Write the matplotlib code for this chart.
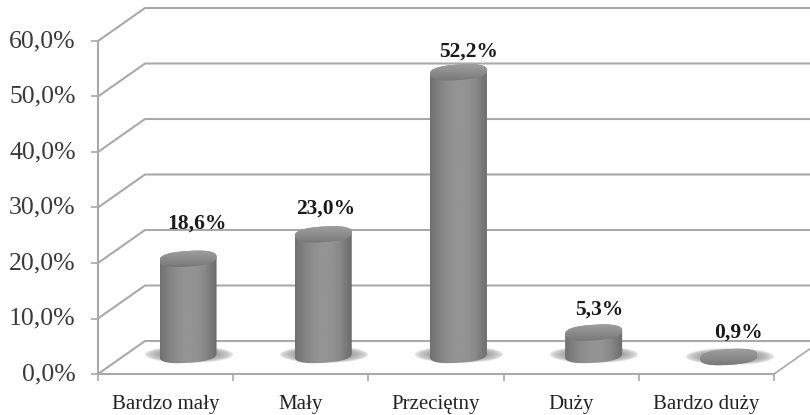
import numpy as np
import matplotlib
matplotlib.use("Agg")
import matplotlib.pyplot as plt
from matplotlib.patches import PathPatch, Polygon
from matplotlib.path import Path

categories = ["Bardzo mały", "Mały", "Przeciętny", "Duży", "Bardzo duży"]
values = [18.6, 23.0, 52.2, 5.3, 0.9]
value_labels = ["18,6%", "23,0%", "52,2%", "5,3%", "0,9%"]
y_ticks = [0, 10, 20, 30, 40, 50, 60]
y_tick_labels = ["0,0%", "10,0%", "20,0%", "30,0%", "40,0%", "50,0%", "60,0%"]

plt.rcParams["font.family"] = ["Liberation Serif", "DejaVu Serif"]

W, H = 810, 415
fig = plt.figure(figsize=(W / 100, H / 100), dpi=100)
ax = fig.add_axes([98 / W, (H - 374) / H, (774 - 98) / W, (374 - 41) / H])
ax.patch.set_alpha(0)

line_col = "#a9a9a9"
px_x = 5 / (774 - 98)   # one pixel in x data units
px_y = 60 / (374 - 41)  # one pixel in y data units
depth_x = 47 * px_x
depth_y = 33 * px_y

# back wall lines, floor and side
for t in y_ticks:
    ax.plot([0, depth_x, 6], [t, t + depth_y, t + depth_y], color=line_col, lw=1.5,
            clip_on=False, zorder=1, solid_joinstyle="miter")
ax.plot([5, 5 + depth_x], [0, depth_y], color=line_col, lw=1.2, clip_on=False, zorder=1)

xx, yy = np.meshgrid(np.linspace(-1, 1, 120), np.linspace(-1, 1, 60))
shadow = np.clip(1 - np.sqrt(xx ** 2 + yy ** 2), 0, 1) ** 0.5
shadow_rgba = np.zeros(shadow.shape + (4,))
shadow_rgba[..., :3] = 0.42
shadow_rgba[..., 3] = shadow

a = 28.5 * px_x
b = 7.8 * px_y
tilt = 1.8 * px_y
base_y = 19 * px_y
lid_y = 12 * px_y

body_grad = np.array([0.44, 0.49, 0.53, 0.56, 0.58, 0.58, 0.57, 0.54, 0.48, 0.42])
body_img = np.interp(np.linspace(0, 9, 200), np.arange(10), body_grad).reshape(1, -1)
top_img = np.linspace(0.46, 0.64, 60).reshape(-1, 1)[::-1]

theta = np.linspace(0, 2 * np.pi, 121)
cos_t = np.sign(np.cos(theta)) * np.abs(np.cos(theta)) ** 0.8
sin_t = np.sign(np.sin(theta)) * np.abs(np.sin(theta)) ** 0.8

for i, v in enumerate(values):
    cx = i + 0.666
    top_y = lid_y + v
    bot_y = min(base_y, top_y)

    # soft shadow on the floor
    ax.imshow(shadow_rgba, extent=[cx - 1.55 * a, cx + 1.6 * a, bot_y - 1.0 * b, bot_y + 1.1 * b],
              origin="lower", aspect="auto", zorder=2, clip_on=False, interpolation="bilinear")

    ex = cx + a * cos_t
    ey_base = bot_y + b * sin_t + tilt * cos_t
    ey_top = top_y + b * sin_t + tilt * cos_t

    # side of the cylinder, bottom half of base then top half of lid
    low = theta >= np.pi
    up = theta <= np.pi
    px = np.concatenate([ex[low], ex[up]])
    py = np.concatenate([ey_base[low], ey_top[up]])
    body = Polygon(np.column_stack([px, py]), closed=True, transform=ax.transData, fc="none", ec="none")
    ax.add_patch(body)
    im = ax.imshow(body_img, extent=[cx - a, cx + a, bot_y - b - tilt, top_y + b + tilt], cmap="gray",
                   vmin=0, vmax=1, aspect="auto", zorder=3, interpolation="bilinear")
    im.set_clip_path(body)

    lid = PathPatch(Path(np.column_stack([ex, ey_top])), transform=ax.transData, fc="none", ec="none")
    ax.add_patch(lid)
    im2 = ax.imshow(top_img, extent=[cx - a, cx + a, top_y - b - tilt, top_y + b + tilt], cmap="gray",
                    vmin=0, vmax=1, aspect="auto", zorder=4, interpolation="bilinear")
    im2.set_clip_path(lid)

label_dx = [9, 2, 10, 6, 10]
label_dy = [27, 18, 13, 15, 17]
for i, v in enumerate(values):
    ax.annotate(value_labels[i], xy=(i + 0.666, lid_y + v + b), xytext=(label_dx[i] * 0.72, label_dy[i] * 0.72),
                textcoords="offset points", ha="center", va="center", fontsize=15.5, fontweight="bold",
                color="#1a1a1a", zorder=6)

ax.set_xlim(0, 5)
ax.set_ylim(0, 60)

ax.set_yticks(y_ticks)
ax.set_yticklabels(y_tick_labels, fontsize=18.5, color="#3a3a3a", va="center")
ax.set_xticks(np.arange(6))
ax.set_xticklabels([])
ax.set_xticks(np.arange(5) + 0.5, minor=True)
ax.set_xticklabels(categories, minor=True, fontsize=15, color="#222222")
ax.tick_params(axis="x", which="major", length=5, width=1.2, color=line_col)
ax.tick_params(axis="x", which="minor", length=0, pad=15)
ax.tick_params(axis="y", length=5, width=1.2, color=line_col, pad=11)

for side in ["top", "right"]:
    ax.spines[side].set_visible(False)
for side in ["left", "bottom"]:
    ax.spines[side].set_color(line_col)
    ax.spines[side].set_linewidth(1.5)

fig.savefig("out.png", dpi=100)
